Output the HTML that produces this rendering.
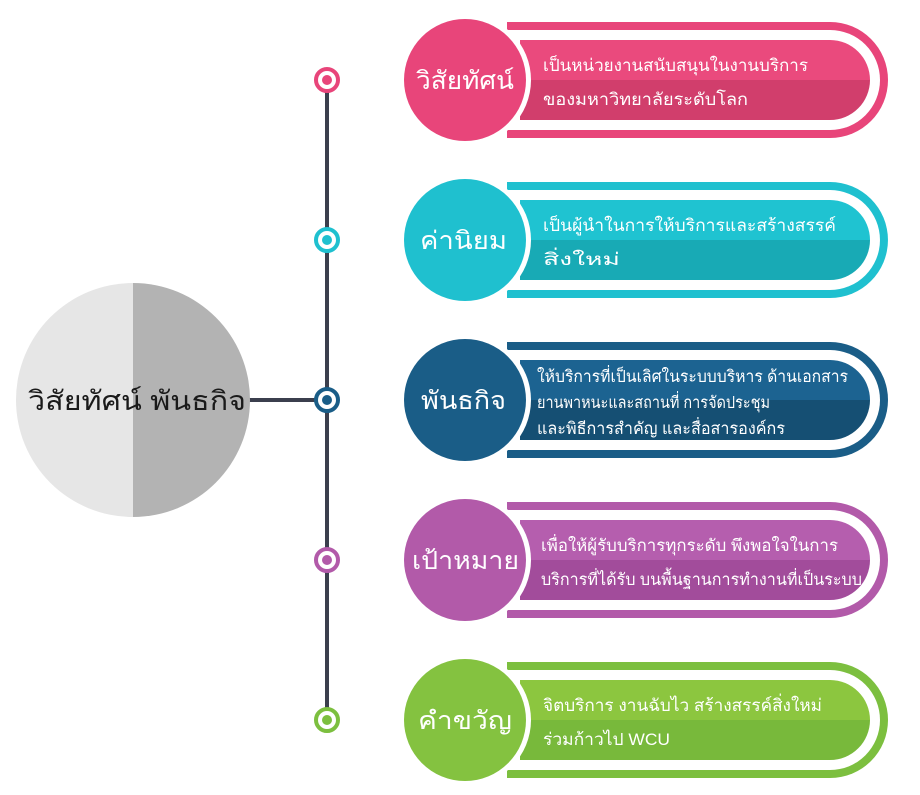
<!DOCTYPE html>
<html><head><meta charset="utf-8"><style>
html,body{margin:0;padding:0;background:#fff;width:920px;height:795px;overflow:hidden}
svg{display:block}
text{font-family:"Liberation Sans","Noto Sans CJK SC",sans-serif}
</style></head><body>
<svg width="920" height="795" viewBox="0 0 920 795" xmlns="http://www.w3.org/2000/svg">
<line x1="327" y1="80" x2="327" y2="720" stroke="#3b3f4d" stroke-width="4"/>
<line x1="245" y1="400" x2="327" y2="400" stroke="#3b3f4d" stroke-width="4"/>
<defs><clipPath id="bc"><circle cx="133" cy="400" r="117"/></clipPath></defs>
<g clip-path="url(#bc)">
<rect x="16" y="283" width="117" height="234" fill="#e6e6e6"/>
<rect x="133" y="283" width="117" height="234" fill="#b3b3b3"/>
</g>
<text x="28" y="410" font-size="27" textLength="218" lengthAdjust="spacingAndGlyphs" fill="#1a1a1a">วิสัยทัศน์ พันธกิจ</text>

<!-- Row 1 -->
<path d="M507 22 H830 A58 58 0 0 1 830 138 H507 Z" fill="#e8457a"/>
<path d="M507 30 H830 A50 50 0 0 1 830 130 H507 Z" fill="#fff"/>
<path d="M520 40 H830 A40 40 0 0 1 870 80 H520 Z" fill="#ea4a7d"/>
<path d="M520 80 H870 A40 40 0 0 1 830 120 H520 Z" fill="#d13e6c"/>
<circle cx="465" cy="80" r="66" fill="#fff"/>
<circle cx="465" cy="80" r="61" fill="#e8457a"/>
<text x="416" y="89" font-size="25" textLength="98" lengthAdjust="spacingAndGlyphs" fill="#fff">วิสัยทัศน์</text>
<text x="543" y="71" font-size="17" textLength="265" lengthAdjust="spacingAndGlyphs" fill="#fff">เป็นหน่วยงานสนับสนุนในงานบริการ</text>
<text x="543" y="105" font-size="17" textLength="205" lengthAdjust="spacingAndGlyphs" fill="#fff">ของมหาวิทยาลัยระดับโลก</text>
<circle cx="327" cy="80" r="11" fill="#fff" stroke="#e8457a" stroke-width="4"/>
<circle cx="327" cy="80" r="5" fill="#e8457a"/>

<!-- Row 2 -->
<path d="M507 182 H830 A58 58 0 0 1 830 298 H507 Z" fill="#1fc0cf"/>
<path d="M507 190 H830 A50 50 0 0 1 830 290 H507 Z" fill="#fff"/>
<path d="M520 200 H830 A40 40 0 0 1 870 240 H520 Z" fill="#1fc3d1"/>
<path d="M520 240 H870 A40 40 0 0 1 830 280 H520 Z" fill="#18aab5"/>
<circle cx="465" cy="240" r="66" fill="#fff"/>
<circle cx="465" cy="240" r="61" fill="#1fc0cf"/>
<text x="420" y="249" font-size="25" textLength="87" lengthAdjust="spacingAndGlyphs" fill="#fff">ค่านิยม</text>
<text x="543" y="231" font-size="17" textLength="293" lengthAdjust="spacingAndGlyphs" fill="#fff">เป็นผู้นำในการให้บริการและสร้างสรรค์</text>
<text x="543" y="265" font-size="17" textLength="77" lengthAdjust="spacingAndGlyphs" fill="#fff">สิ่งใหม่</text>
<circle cx="327" cy="240" r="11" fill="#fff" stroke="#1fc0cf" stroke-width="4"/>
<circle cx="327" cy="240" r="5" fill="#1fc0cf"/>

<!-- Row 3 -->
<path d="M507 342 H830 A58 58 0 0 1 830 458 H507 Z" fill="#1a5d87"/>
<path d="M507 350 H830 A50 50 0 0 1 830 450 H507 Z" fill="#fff"/>
<path d="M520 360 H830 A40 40 0 0 1 870 400 H520 Z" fill="#1c6391"/>
<path d="M520 400 H870 A40 40 0 0 1 830 440 H520 Z" fill="#154f73"/>
<circle cx="465" cy="400" r="66" fill="#fff"/>
<circle cx="465" cy="400" r="61" fill="#1a5d87"/>
<text x="421" y="409" font-size="25" textLength="85" lengthAdjust="spacingAndGlyphs" fill="#fff">พันธกิจ</text>
<text x="537" y="382" font-size="16.5" textLength="311" lengthAdjust="spacingAndGlyphs" fill="#fff">ให้บริการที่เป็นเลิศในระบบบริหาร ด้านเอกสาร</text>
<text x="537" y="408" font-size="16.5" textLength="233" lengthAdjust="spacingAndGlyphs" fill="#fff">ยานพาหนะและสถานที่ การจัดประชุม</text>
<text x="537" y="434" font-size="16.5" textLength="248" lengthAdjust="spacingAndGlyphs" fill="#fff">และพิธีการสำคัญ และสื่อสารองค์กร</text>
<circle cx="327" cy="400" r="11" fill="#fff" stroke="#1a5d87" stroke-width="4"/>
<circle cx="327" cy="400" r="5" fill="#1a5d87"/>

<!-- Row 4 -->
<path d="M507 502 H830 A58 58 0 0 1 830 618 H507 Z" fill="#b25aa9"/>
<path d="M507 510 H830 A50 50 0 0 1 830 610 H507 Z" fill="#fff"/>
<path d="M520 520 H830 A40 40 0 0 1 870 560 H520 Z" fill="#b55eae"/>
<path d="M520 560 H870 A40 40 0 0 1 830 600 H520 Z" fill="#a24c9b"/>
<circle cx="465" cy="560" r="66" fill="#fff"/>
<circle cx="465" cy="560" r="61" fill="#b25aa9"/>
<text x="412" y="569" font-size="25" textLength="107" lengthAdjust="spacingAndGlyphs" fill="#fff">เป้าหมาย</text>
<text x="541" y="551" font-size="16.5" textLength="297" lengthAdjust="spacingAndGlyphs" fill="#fff">เพื่อให้ผู้รับบริการทุกระดับ พึงพอใจในการ</text>
<text x="541" y="585" font-size="16.5" textLength="321" lengthAdjust="spacingAndGlyphs" fill="#fff">บริการที่ได้รับ บนพื้นฐานการทำงานที่เป็นระบบ</text>
<circle cx="327" cy="560" r="11" fill="#fff" stroke="#b25aa9" stroke-width="4"/>
<circle cx="327" cy="560" r="5" fill="#b25aa9"/>

<!-- Row 5 -->
<path d="M507 662 H830 A58 58 0 0 1 830 778 H507 Z" fill="#7cbf3f"/>
<path d="M507 670 H830 A50 50 0 0 1 830 770 H507 Z" fill="#fff"/>
<path d="M520 680 H830 A40 40 0 0 1 870 720 H520 Z" fill="#8cc63f"/>
<path d="M520 720 H870 A40 40 0 0 1 830 760 H520 Z" fill="#78b93b"/>
<circle cx="465" cy="720" r="66" fill="#fff"/>
<circle cx="465" cy="720" r="61" fill="#84c240"/>
<text x="418" y="729" font-size="25" textLength="94" lengthAdjust="spacingAndGlyphs" fill="#fff">คำขวัญ</text>
<text x="543" y="711" font-size="17" textLength="279" lengthAdjust="spacingAndGlyphs" fill="#fff">จิตบริการ งานฉับไว สร้างสรรค์สิ่งใหม่</text>
<text x="543" y="745" font-size="17" textLength="127" lengthAdjust="spacingAndGlyphs" fill="#fff">ร่วมก้าวไป WCU</text>
<circle cx="327" cy="720" r="11" fill="#fff" stroke="#7cbf3f" stroke-width="4"/>
<circle cx="327" cy="720" r="5" fill="#7cbf3f"/>
</svg>
</body></html>
